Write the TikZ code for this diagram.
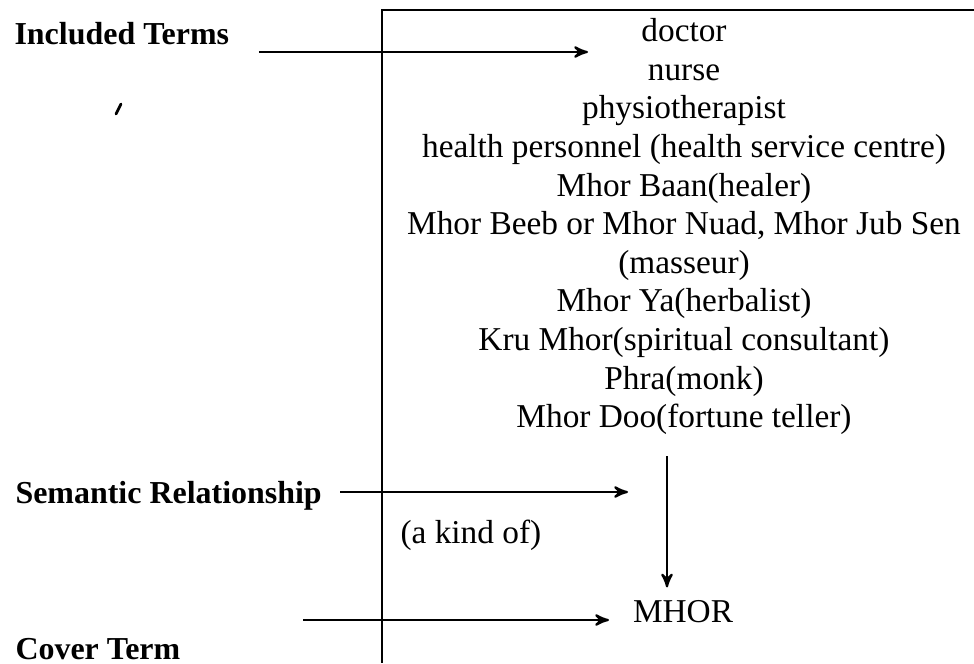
\documentclass[tikz,border=0pt,12pt]{standalone}
\usepackage{fontspec}
\setmainfont{Liberation Serif}
\usetikzlibrary{arrows}
\usetikzlibrary{matrix}
\usetikzlibrary{positioning}
\tikzset{
  every matrix/.style={
    matrix of nodes, inner sep=0, row sep=0,
    nodes={anchor=base, inner sep=0, text height=9.8pt, text depth=4.1pt}
  },
  sidelabel/.style={anchor=base west, inner sep=0, font=\fontsize{11.5}{13}\selectfont\bfseries},
  termtext/.style={anchor=base, inner sep=0},
  boxline/.style={semithick},
  arrow/.style={->,>=stealth', thick}
}

\begin{document}
\begin{tikzpicture}[x=0.36pt, y=-0.36pt]
  \useasboundingbox (0,0) rectangle (974,663);
  \draw[boxline] (974,10) -- (382,10) -- (382,663);
  \matrix (terms) [anchor=north] at (684,13.8) {
    doctor \\
    nurse \\
    physiotherapist \\
    health personnel (health service centre) \\
    Mhor Baan(healer) \\
    Mhor Beeb or Mhor Nuad, Mhor Jub Sen \\
    (masseur) \\
    Mhor Ya(herbalist) \\
    Kru Mhor(spiritual consultant) \\
    Phra(monk) \\
    Mhor Doo(fortune teller) \\
  };
  \node[sidelabel] (inc) at (14,44) {Included Terms};
  \node[sidelabel] (sem) at (15,503) {Semantic Relationship};
  \node[sidelabel] (cover) at (15,659) {Cover Term};
  \node[termtext, anchor=base west] (kind) at (400,543) {(a kind of)};
  \node[termtext] (mhor) at (683,622) {MHOR};
  \coordinate (incTo) at (588,52);
  \coordinate (semTo) at (628,492);
  \coordinate (coverFrom) at (303,620);
  \coordinate (coverTo) at (609,620);
  \coordinate (downX) at (667,0);
  \draw[arrow, shorten <=10.5pt] (inc.east |- incTo) -- (incTo);
  \draw[arrow, shorten <=6.5pt] (sem.east |- semTo) -- (semTo);
  \draw[arrow] (coverFrom) -- (coverTo);
  \draw[arrow, shorten <=6pt, shorten >=4.3pt] (terms-11-1.south -| downX) -- (mhor.north -| downX);
  % stray mark
  \draw[line width=1pt, line cap=round] (116,114) -- (121,104);
\end{tikzpicture}
\end{document}
